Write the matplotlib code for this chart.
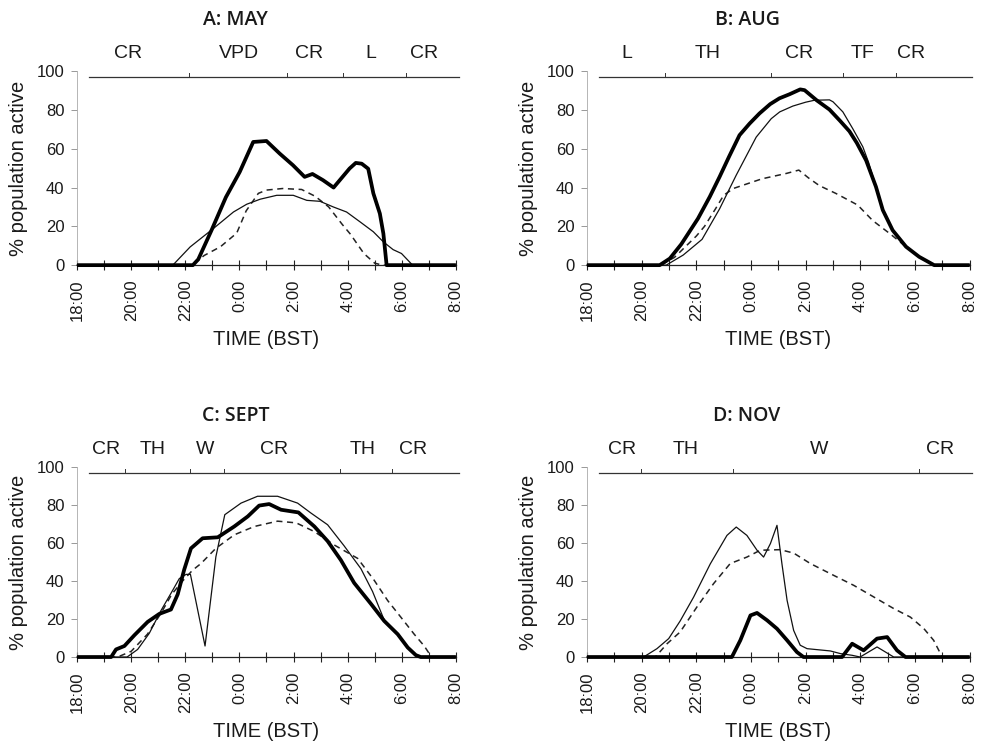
import matplotlib
matplotlib.use("Agg")
import matplotlib.pyplot as plt

plt.rcParams['font.family'] = ['Liberation Sans', 'DejaVu Sans']

# Hours after 18:00 BST (0 = 18:00, 14 = 08:00)
tick_hours = list(range(0, 15, 2))
tick_labels = ["18:00", "20:00", "22:00", "0:00", "2:00", "4:00", "6:00", "8:00"]

# ---- A: MAY ----
may_heavy_x = [0, 4.28, 4.48, 4.97, 5.5, 6.01, 6.51, 7.0, 7.49, 7.98, 8.41, 8.7, 9.09, 9.48,
               10.07, 10.3, 10.52, 10.76, 10.95, 11.19, 11.32, 11.44, 14]
may_heavy_y = [0, 0, 3, 18, 35, 48, 63.5, 64, 57.5, 51.5, 45.5, 47, 43.8, 40,
               49.8, 52.7, 52.3, 49.7, 37, 26.6, 16.3, 0, 0]
may_light_x = [0, 3.54, 4.18, 5.04, 5.78, 6.27, 6.77, 7.38, 7.99, 8.49, 8.98, 9.47, 9.96,
               10.46, 10.95, 11.32, 11.68, 11.99, 12.4, 14]
may_light_y = [0, 0, 9.4, 18.9, 27.4, 31.4, 34, 36, 36, 33.4, 32.9, 30, 27.4,
               22.3, 17.2, 12, 8, 6, 0, 0]
may_dash_x = [0, 4.25, 4.7, 5.3, 5.9, 6.25, 6.7, 7.0, 7.6, 8.3, 8.8, 9.3, 9.8, 10.1, 10.6, 11.0, 11.3, 14]
may_dash_y = [0, 0, 5, 9.5, 16.5, 28, 37, 38.7, 39.5, 39, 35.5, 30, 21, 16, 6, 1, 0, 0]
may_codes = ["CR", "VPD", "CR", "L", "CR"]
may_code_x = [1.88, 5.98, 8.57, 10.85, 12.84]
may_bounds = [4.13, 7.76, 9.83, 12.14]

# ---- B: AUG ----
aug_heavy_x = [0, 2.66, 3.03, 3.45, 4.06, 4.49, 4.85, 5.2, 5.58, 5.95, 6.31, 6.7, 7.04, 7.41,
               7.8, 7.96, 8.4, 8.87, 9.25, 9.6, 9.87, 10.21, 10.57, 10.82, 11.18, 11.67, 12.15, 12.7, 14]
aug_heavy_y = [0, 0, 3.4, 10.8, 24, 35.2, 45.5, 56, 67, 73, 78.2, 83, 86, 88.1,
               90.6, 90.2, 85, 80.2, 74.5, 69, 63, 54, 40.4, 28.4, 18, 9.5, 4.3, 0, 0]
aug_light_x = [0, 2.9, 3.52, 4.21, 4.85, 5.46, 6.19, 6.74, 7.05, 7.53, 8.0, 8.32, 8.87, 9.0,
               9.36, 9.72, 10.09, 10.3, 10.57, 10.82, 11.18, 11.67, 12.15, 12.7, 14]
aug_light_y = [0, 0, 5.2, 13.3, 29, 46.4, 66, 75.5, 79, 82, 84, 85, 85.2, 84.2,
               79, 70.4, 61, 53, 40.4, 28.4, 18, 9.5, 4.3, 0, 0]
aug_dash_x = [0, 2.7, 3.2, 3.6, 4.0, 4.3, 4.7, 5.0, 5.35, 6.4, 7.3, 7.75, 8.1, 8.5, 9.1, 9.9,
              10.45, 11.1, 11.67, 12.15, 12.7, 14]
aug_dash_y = [0, 0, 4, 9.5, 15, 20, 29, 36, 39.5, 44.5, 47.3, 49, 45, 41, 37, 31,
              23, 16, 9.5, 4.3, 0, 0]
aug_codes = ["L", "TH", "CR", "TF", "CR"]
aug_code_x = [1.45, 4.43, 7.77, 10.08, 11.85]
aug_bounds = [2.87, 6.74, 9.36, 11.3]

# ---- C: SEPT ----
sep_heavy_x = [0, 1.26, 1.44, 1.75, 2.12, 2.61, 3.04, 3.47, 3.72, 3.96, 4.21, 4.64, 5.2, 5.81,
               6.31, 6.73, 7.1, 7.54, 8.18, 8.77, 9.26, 9.75, 10.24, 10.86, 11.35, 11.85,
               12.22, 12.52, 12.7, 14]
sep_heavy_y = [0, 0, 4, 5.8, 11.5, 18.5, 22.7, 25, 33, 46, 57.2, 62.5, 63, 68.7,
               74, 79.7, 80.5, 77.5, 76.1, 68.7, 61, 51, 39, 28, 19, 12,
               5, 1, 0, 0]
sep_light_x = [0, 1.85, 2.24, 2.67, 3.1, 3.53, 3.78, 4.03, 4.19, 4.73, 5.13, 5.46, 6.06, 6.67,
               7.41, 8.15, 8.64, 9.26, 9.87, 10.49, 10.92, 11.35, 11.85, 12.22, 12.52, 12.7, 14]
sep_light_y = [0, 0, 4, 12.5, 24.4, 35, 41.3, 43.5, 43.5, 5.8, 52.7, 74.9, 81, 84.6,
               84.6, 81, 75.8, 69.6, 58.5, 46.5, 34.5, 19.5, 12, 5, 1, 0, 0]
sep_dash_x = [0, 1.5, 2.0, 2.6, 3.1, 3.5, 3.9, 4.27, 4.58, 5.13, 5.81, 6.55, 7.41, 8.1, 8.77,
              9.5, 10.37, 10.98, 11.48, 11.97, 12.46, 12.83, 13.1, 14]
sep_dash_y = [0, 0, 3, 12, 23, 33, 40, 45.7, 49.2, 57.2, 64.3, 68.7, 71.5, 70.6, 66,
              59, 51.9, 40.4, 29.7, 20.9, 12, 5.8, 0, 0]
sep_codes = ["CR", "TH", "W", "CR", "TH", "CR"]
sep_code_x = [1.07, 2.8, 4.73, 7.29, 10.55, 12.4]
sep_bounds = [1.77, 4.19, 5.42, 9.73, 11.63]

# ---- D: NOV ----
nov_heavy_x = [0, 5.3, 5.61, 5.98, 6.22, 6.59, 6.95, 7.32, 7.68, 7.92, 9.33, 9.7, 10.12,
               10.61, 10.98, 11.34, 11.65, 14]
nov_heavy_y = [0, 0, 8.8, 21.9, 23.2, 19.3, 14.9, 8.8, 2.6, 0, 0, 7, 3.5,
               9.7, 10.5, 3.5, 0, 0]
nov_light_x = [0, 2.07, 2.56, 2.99, 3.41, 3.9, 4.51, 5.12, 5.46, 5.85, 6.22, 6.46, 6.71, 6.95,
               7.13, 7.32, 7.56, 7.8, 8.05, 8.9, 9.27, 9.7, 9.99, 10.61, 11.22, 14]
nov_light_y = [0, 0, 4.4, 9.7, 19, 31.5, 49, 64, 68.4, 64, 56.2, 52.6, 59.7, 69.3,
               49.2, 29.8, 14, 6.2, 4.4, 3.2, 1.8, 0.9, 0, 5.3, 0, 0]
nov_dash_x = [0, 2.5, 2.93, 3.41, 4.02, 4.63, 5.24, 5.85, 6.34, 7.07, 7.56, 8.17, 9.02, 9.76,
              10.49, 11.22, 11.83, 12.32, 12.68, 12.93, 13.0, 14]
nov_dash_y = [0, 0, 7, 13.2, 26.3, 38.6, 49.2, 52.6, 56.2, 56.5, 54.7, 49.2, 43, 37.7,
              31.6, 25.5, 21, 15, 8.8, 1.8, 0, 0]
nov_codes = ["CR", "TH", "W", "CR"]
nov_code_x = [1.28, 3.6, 8.48, 12.9]
nov_bounds = [1.97, 5.34, 12.13]

panels = [
    ("A: MAY", [0.0783, 0.646, 0.385, 0.259],
     (may_heavy_x, may_heavy_y), (may_light_x, may_light_y), (may_dash_x, may_dash_y),
     may_codes, may_code_x, may_bounds),
    ("B: AUG", [0.5965, 0.646, 0.389, 0.259],
     (aug_heavy_x, aug_heavy_y), (aug_light_x, aug_light_y), (aug_dash_x, aug_dash_y),
     aug_codes, aug_code_x, aug_bounds),
    ("C: SEPT", [0.0783, 0.1228, 0.385, 0.2537],
     (sep_heavy_x, sep_heavy_y), (sep_light_x, sep_light_y), (sep_dash_x, sep_dash_y),
     sep_codes, sep_code_x, sep_bounds),
    ("D: NOV", [0.5965, 0.1228, 0.389, 0.2537],
     (nov_heavy_x, nov_heavy_y), (nov_light_x, nov_light_y), (nov_dash_x, nov_dash_y),
     nov_codes, nov_code_x, nov_bounds),
]

fig = plt.figure(figsize=(9.84, 7.49), dpi=100)

for title, rect, heavy, light, dash, codes, code_x, bounds in panels:
    ax = fig.add_axes(rect)
    ax.set_xlim(0, 14)
    ax.set_ylim(0, 100)

    ax.plot(*dash, color="#222222", lw=1.1, dashes=(4, 3), clip_on=False, zorder=3)
    ax.plot(*light, color="#111111", lw=0.9, clip_on=False, zorder=4)
    ax.plot(*heavy, color="black", lw=2.7, clip_on=False, zorder=5,
            solid_joinstyle="round", solid_capstyle="butt")

    # behaviour bar along the top
    ax.plot([0.45, 14.1], [97, 97], color="#333333", lw=0.9, clip_on=False)
    for b in bounds:
        ax.plot([b, b], [97, 98.8], color="#333333", lw=0.7, clip_on=False)
    for lab, cx in zip(codes, code_x):
        ax.text(cx, 109, lab, ha="center", va="center", fontsize=14, color="#1a1a1a")

    ax.set_title(title, x=0.418, y=1.0, pad=33, fontsize=14, fontweight="semibold",
                 family=["Open Sans", "DejaVu Sans"], color="#1a1a1a")

    for side in ("top", "right"):
        ax.spines[side].set_visible(False)
    ax.spines["left"].set_color("#aaaaaa")
    ax.spines["left"].set_linewidth(0.6)
    ax.spines["bottom"].set_color("#222222")
    ax.spines["bottom"].set_linewidth(0.9)

    ax.set_yticks([0, 20, 40, 60, 80, 100])
    ax.tick_params(axis="y", direction="out", length=4, width=0.6, color="#888888",
                   labelsize=12, pad=5, labelcolor="#1a1a1a")
    ax.set_xticks(tick_hours)
    ax.set_xticklabels(tick_labels, rotation=90)
    ax.set_xticks(range(0, 15), minor=True)
    ax.tick_params(axis="x", which="both", direction="inout", length=7, width=0.8,
                   color="#222222")
    ax.tick_params(axis="x", which="major", labelsize=12, pad=7, labelcolor="#1a1a1a")

    ax.set_xlabel("TIME (BST)", fontsize=14.5, labelpad=6, color="#1a1a1a")
    ax.set_ylabel("% population active", fontsize=14.5, labelpad=6, color="#1a1a1a")

fig.savefig("out.png", dpi=100)
